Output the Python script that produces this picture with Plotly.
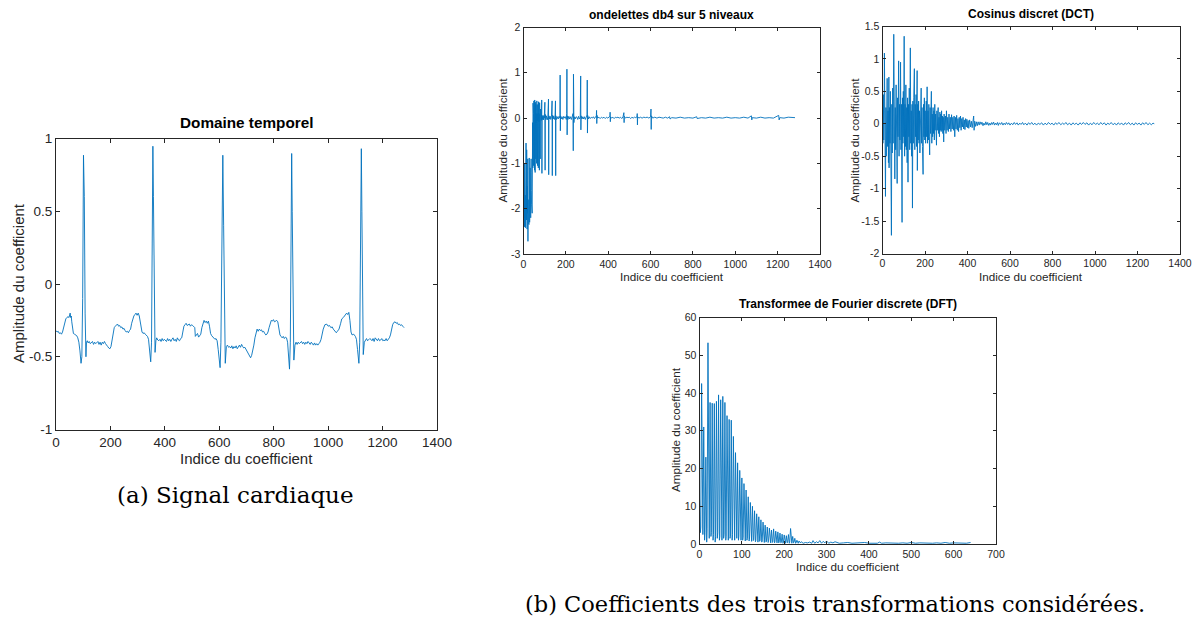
import plotly.graph_objects as go

W, H = 1197, 617
BLUE = "#0072BD"
AX = "#262626"

# ---------------- data: ECG signal (time domain) ----------------
ecg_idx = [0, 4, 8, 12, 16, 20, 24, 28, 32, 36,
           40, 44, 48, 50, 52, 54, 56, 58, 61, 64,
           68, 72, 76, 80, 84, 88, 92, 95, 98, 101,
           104, 107, 110, 112, 115, 118, 122, 126, 130, 134,
           138, 142, 146, 150, 154, 158, 162, 166, 170, 174,
           178, 182, 186, 190, 194, 198, 202, 206, 210, 214,
           218, 222, 226, 230, 234, 238, 242, 246, 250, 254,
           258, 262, 266, 270, 274, 278, 282, 286, 290, 294,
           298, 302, 306, 310, 313, 316, 320, 324, 328, 332,
           336, 340, 344, 348, 351, 354, 356, 358, 361, 364,
           367, 370, 374, 378, 382, 386, 390, 394, 398, 402,
           406, 410, 414, 418, 422, 426, 430, 434, 438, 442,
           446, 450, 454, 458, 462, 466, 470, 474, 478, 482,
           486, 490, 494, 498, 502, 506, 510, 512, 516, 520,
           524, 528, 532, 536, 540, 544, 548, 552, 556, 560,
           564, 568, 572, 576, 580, 584, 588, 592, 596, 600,
           603, 606, 610, 613, 616, 619, 622, 626, 630, 634,
           638, 642, 646, 650, 654, 658, 662, 666, 670, 674,
           678, 682, 686, 690, 694, 698, 702, 706, 710, 715,
           719, 723, 727, 731, 735, 739, 743, 747, 751, 755,
           759, 763, 767, 771, 775, 779, 783, 787, 791, 795,
           799, 803, 807, 811, 815, 819, 823, 827, 831, 835,
           839, 843, 847, 851, 854, 858, 861, 864, 866, 868,
           871, 874, 878, 882, 886, 890, 894, 898, 902, 906,
           910, 914, 918, 922, 926, 930, 934, 938, 942, 946,
           950, 954, 958, 962, 966, 970, 974, 977, 982, 988,
           995, 1000, 1005, 1010, 1015, 1019, 1024, 1030, 1034, 1040,
           1046, 1050, 1056, 1062, 1068, 1072, 1076, 1080, 1084, 1088,
           1094, 1100, 1104, 1108, 1113, 1116, 1119, 1122, 1124, 1126,
           1129, 1133, 1137, 1141, 1145, 1149, 1153, 1157, 1161, 1165,
           1169, 1173, 1177, 1181, 1185, 1189, 1193, 1197, 1201, 1205,
           1209, 1213, 1217, 1221, 1225, 1229, 1233, 1237, 1241, 1246,
           1250, 1254, 1258, 1262, 1266, 1270, 1274, 1279]
ecg_val = [-0.32, -0.33, -0.325, -0.34, -0.335, -0.345, -0.33, -0.30, -0.26, -0.24,
           -0.23, -0.225, -0.23, -0.21, -0.20, -0.23, -0.22, -0.26, -0.32, -0.34,
           -0.345, -0.35, -0.355, -0.37, -0.40, -0.46, -0.545, -0.50, -0.10, 0.885,
           0.60, -0.20, -0.50, -0.40, -0.39, -0.405, -0.395, -0.41, -0.40, -0.395,
           -0.415, -0.40, -0.41, -0.40, -0.395, -0.415, -0.40, -0.42, -0.40, -0.41,
           -0.395, -0.41, -0.425, -0.43, -0.44, -0.445, -0.43, -0.38, -0.33, -0.30,
           -0.29, -0.28, -0.275, -0.29, -0.285, -0.30, -0.295, -0.31, -0.305, -0.32,
           -0.33, -0.325, -0.335, -0.32, -0.31, -0.27, -0.24, -0.22, -0.21, -0.20,
           -0.215, -0.20, -0.22, -0.26, -0.30, -0.33, -0.34, -0.335, -0.345, -0.35,
           -0.36, -0.38, -0.45, -0.535, -0.40, 0.40, 0.947, 0.60, -0.10, -0.47,
           -0.39, -0.37, -0.385, -0.39, -0.38, -0.395, -0.375, -0.39, -0.38, -0.385,
           -0.395, -0.375, -0.39, -0.38, -0.395, -0.38, -0.37, -0.39, -0.38, -0.395,
           -0.37, -0.385, -0.39, -0.375, -0.37, -0.33, -0.29, -0.28, -0.27, -0.285,
           -0.28, -0.275, -0.29, -0.28, -0.285, -0.29, -0.30, -0.36, -0.35, -0.34,
           -0.365, -0.35, -0.345, -0.30, -0.265, -0.25, -0.265, -0.255, -0.27, -0.255,
           -0.29, -0.34, -0.355, -0.365, -0.37, -0.38, -0.375, -0.39, -0.45, -0.52,
           -0.575, -0.40, 0.20, 0.885, 0.40, -0.20, -0.545, -0.43, -0.42, -0.435,
           -0.43, -0.44, -0.425, -0.445, -0.43, -0.44, -0.425, -0.445, -0.43, -0.42,
           -0.435, -0.415, -0.43, -0.44, -0.435, -0.45, -0.46, -0.48, -0.495, -0.507,
           -0.49, -0.46, -0.42, -0.37, -0.33, -0.31, -0.325, -0.31, -0.32, -0.315,
           -0.33, -0.325, -0.34, -0.35, -0.345, -0.33, -0.30, -0.27, -0.25, -0.255,
           -0.245, -0.26, -0.255, -0.25, -0.26, -0.30, -0.35, -0.36, -0.37, -0.36,
           -0.375, -0.365, -0.37, -0.40, -0.47, -0.585, -0.40, 0.30, 0.897, 0.50,
           -0.20, -0.523, -0.42, -0.40, -0.415, -0.40, -0.41, -0.405, -0.395, -0.41,
           -0.40, -0.415, -0.40, -0.41, -0.395, -0.405, -0.415, -0.40, -0.41, -0.42,
           -0.405, -0.42, -0.41, -0.42, -0.41, -0.40, -0.38, -0.35, -0.31, -0.28,
           -0.276, -0.29, -0.285, -0.30, -0.295, -0.31, -0.32, -0.335, -0.325, -0.31,
           -0.27, -0.24, -0.23, -0.215, -0.20, -0.21, -0.195, -0.25, -0.33, -0.35,
           -0.345, -0.36, -0.38, -0.45, -0.545, -0.40, 0.20, 0.93, 0.50, -0.10,
           -0.485, -0.40, -0.39, -0.375, -0.39, -0.385, -0.375, -0.38, -0.39, -0.375,
           -0.395, -0.37, -0.385, -0.39, -0.375, -0.39, -0.385, -0.375, -0.39, -0.385,
           -0.39, -0.375, -0.39, -0.38, -0.37, -0.35, -0.31, -0.28, -0.265, -0.26,
           -0.27, -0.265, -0.28, -0.275, -0.285, -0.28, -0.29, -0.30]

# ---------------- data: db4 wavelet coefficients ----------------
db4_idx = list(range(0, 89)) + [
           90, 92, 94, 96, 98, 101, 102, 103, 106, 109,
           112, 115, 118, 119, 120, 123, 126, 129, 132, 135,
           136, 137, 140, 143, 146, 149, 151, 152, 153, 156,
           160, 164, 168, 172, 173, 174, 175, 178, 182, 186,
           190, 194, 198, 202, 204, 205, 206, 207, 210, 214,
           218, 222, 226, 230, 234, 235, 236, 237, 238, 240,
           244, 248, 252, 256, 260, 264, 268, 270, 271, 272,
           276, 280, 284, 288, 292, 296, 300, 301, 302, 303,
           306, 310, 315, 320, 325, 330, 335, 340, 344, 345,
           346, 347, 350, 356, 362, 368, 374, 380, 386, 392,
           398, 404, 408, 409, 410, 411, 416, 422, 428, 434,
           440, 446, 452, 458, 464, 470, 474, 475, 476, 482,
           488, 494, 500, 506, 512, 518, 524, 530, 536, 537,
           538, 539, 545, 552, 560, 568, 576, 584, 592, 600,
           602, 603, 604, 610, 620, 630, 640, 650, 660, 670,
           680, 690, 692, 700, 720, 740, 760, 780, 800, 818,
           820, 840, 860, 880, 900, 920, 940, 960, 980, 1000,
           1020, 1040, 1060, 1076, 1078, 1080, 1100, 1120, 1140, 1160,
           1180, 1205, 1207, 1210, 1230, 1250, 1282]
db4_val = [-0.85, -1.9, -1.2, -2.2, -1.0, -2.4, -1.5, -2.1, -1.7, -2.42,
           -1.3, -2.2, -0.55, -1.6, -2.25, -0.7, -1.9, -2.45, -1.5, -2.1,
           -0.9, -2.72, -1.8, -2.3, -1.0, -1.4, -2.35, -0.88, -1.7, -2.3,
           -2.0, -1.1, -2.15, -1.8, -2.2, -1.2, -0.9, -1.6, -1.9, -0.85,
           -1.8, -2.1, -0.3, -0.1, -1.10, 0.33, -0.3, 0.1, -1.05, 0.38,
           -0.5, 0.05, -1.15, 0.40, -0.2, -1.2, 0.35, 0.0, -0.9, 0.30,
           -0.1, 0.1, -1.0, 0.38, -0.05, 0.08, -1.05, 0.3, -0.05, 0.1,
           -1.1, 0.36, 0.02, -0.08, 0.1, -1.15, 0.34, 0.0, 0.05, -0.9,
           0.2, 0.0, 0.06, 0.02, -0.05, 0.03, 0.4, -1.22, 0.05,
           -0.03, 0.06, -0.04, 0.05, 0.0, 0.35, -1.15, 0.08, -0.03, 0.05,
           -0.04, 0.03, 0.42, -1.25, 0.05, -0.02, 0.04, -0.03, 0.04, 0.38,
           -1.27, 0.06, -0.02, 0.05, -0.03, 0.03, 0.38, -1.27, 0.05, -0.03,
           0.03, -0.02, 0.04, 0.0, 0.95, -0.28, 0.05, -0.02, 0.03, -0.03,
           0.04, 0.0, 0.03, -0.03, 0.1, 1.08, -0.37, 0.05, -0.03, 0.04,
           -0.02, 0.03, -0.03, 0.02, 0.1, -0.72, 0.97, 0.35, -0.1, 0.03,
           -0.02, 0.03, 0.02, -0.03, 0.04, -0.02, 0.02, 0.93, -0.26, 0.05,
           -0.02, 0.03, -0.02, 0.03, -0.03, 0.02, 0.07, 0.84, -0.33, 0.06,
           -0.02, 0.03, -0.01, 0.02, 0.0, 0.03, -0.01, 0.02, 0.05, 0.17,
           -0.12, 0.06, 0.0, 0.02, -0.01, 0.02, 0.0, 0.02, -0.01, 0.02,
           0.0, 0.02, 0.04, 0.13, -0.08, 0.03, 0.0, 0.02, -0.01, 0.02,
           0.01, 0.02, 0.0, 0.02, -0.01, 0.03, 0.12, -0.1, 0.04, 0.0,
           0.02, 0.01, 0.02, -0.01, 0.02, 0.0, 0.02, 0.01, 0.03, 0.1,
           -0.15, 0.03, 0.0, 0.02, 0.0, 0.02, 0.01, 0.02, 0.0, 0.03,
           0.2, -0.25, 0.05, 0.0, 0.02, 0.0, 0.02, 0.01, 0.0, 0.02,
           0.0, 0.03, -0.02, 0.01, 0.0, 0.02, 0.0, 0.01, 0.0, 0.03,
           -0.01, 0.01, 0.0, 0.02, 0.0, 0.01, 0.0, 0.02, 0.0, 0.01,
           0.0, 0.02, 0.0, 0.05, -0.04, 0.01, 0.0, 0.02, 0.0, 0.01,
           0.0, 0.06, -0.04, 0.01, 0.0, 0.02, 0.01]

# ---------------- data: DCT coefficients ----------------
dct_idx = [0, 2, 4, 6, 8, 9, 10, 12, 14, 16,
           18, 20, 22, 24, 26, 28, 30, 31, 33, 35,
           37, 39, 42, 44, 46, 48, 50, 53, 55, 57,
           58, 60, 62, 64, 66, 69, 71, 73, 76, 78,
           80, 82, 85, 87, 89, 92, 94, 96, 98, 100,
           102, 104, 106, 108, 110, 112, 114, 116, 118, 120,
           122, 124, 126, 128, 131, 133, 135, 137, 139, 141,
           143, 145, 147, 150, 152, 154, 156, 158, 160, 163,
           164, 166, 168, 170, 172, 174, 176, 178, 180, 182,
           184, 186, 188, 191, 193, 195, 197, 199, 201, 203,
           206, 208, 210, 212, 214, 216, 218, 220, 222, 224,
           226, 228, 230, 232, 234, 236, 238, 240, 242, 244,
           246, 248, 250, 252, 254, 256, 258, 260, 262, 264,
           266, 268, 270, 272, 274, 276, 278, 280, 282, 284,
           286, 288, 290, 293, 296, 299, 301, 304, 307, 310,
           313, 316, 319, 322, 325, 328, 331, 334, 337, 340,
           343, 346, 349, 352, 355, 358, 361, 364, 367, 370,
           373, 376, 379, 382, 385, 388, 391, 394, 397, 400,
           403, 406, 410, 414, 418, 422, 426, 429, 431, 434,
           438, 442, 446, 450, 455, 459, 464, 468, 473, 477,
           482, 486, 491, 495, 500, 505, 509, 514, 518, 523,
           527, 532, 536, 541, 545, 550, 556, 561, 567, 572,
           578, 583, 589, 594, 600, 607, 613, 620, 626, 633,
           639, 646, 652, 659, 665, 672, 680, 687, 695, 702,
           710, 717, 725, 733, 741, 749, 757, 765, 773, 781,
           790, 798, 806, 814, 822, 830, 839, 847, 855, 863,
           871, 880, 888, 896, 904, 912, 921, 929, 937, 945,
           953, 962, 970, 978, 986, 994, 1003, 1011, 1019, 1027,
           1035, 1044, 1052, 1060, 1068, 1076, 1085, 1093, 1101, 1109,
           1117, 1126, 1134, 1142, 1150, 1158, 1167, 1175, 1183, 1191,
           1199, 1208, 1216, 1224, 1232, 1240, 1249, 1257, 1265, 1273,
           1279]
dct_val = [0.35, -0.30, 0.45, -0.25, 0.20, 1.09, -0.40, 0.30, -1.12, 0.25,
           -0.50, 0.15, 0.70, -0.35, 0.20, -0.60, 0.72, -0.68, 0.25, -0.30,
           0.50, -0.20, -1.72, 0.30, -0.45, 0.55, -0.30, 1.38, -0.20, 0.30,
           -0.85, 0.25, -0.40, 0.60, -0.30, -0.92, 0.40, -0.20, 0.97, -0.50,
           0.30, -0.25, 0.95, -0.40, 0.30, -1.52, 0.40, -0.30, 0.50, -0.20,
           1.35, -0.50, 0.30, -0.35, 0.60, -0.40, 0.25, -0.60, 0.40, -0.90,
           0.30, -0.20, 0.55, -0.40, 1.17, -0.30, 0.20, -0.50, 0.30, -1.30,
           0.35, -0.30, 0.40, 0.85, -0.40, 0.30, -0.20, 0.45, -0.35, 0.82,
           -0.72, 0.30, -0.25, 0.35, -0.30, 0.20, -0.45, 0.30, -0.20, 0.55,
           -0.30, 0.25, -0.35, -0.78, 0.30, -0.20, 0.40, -0.25, 0.20, -0.30,
           0.35, -0.20, 0.57, -0.30, 0.20, -0.25, 0.30, -0.20, -0.48, 0.25,
           -0.15, 0.20, 0.50, -0.30, 0.15, -0.20, 0.25, -0.15, 0.20, -0.25,
           0.30, -0.10, 0.15, -0.20, -0.33, 0.20, -0.10, 0.12, 0.25, -0.15,
           0.10, -0.20, 0.18, -0.10, 0.15, -0.12, 0.20, -0.10, 0.12, -0.15,
           0.10, -0.28, 0.15, -0.10, 0.12, -0.15, 0.20, -0.10, 0.10, -0.12,
           0.15, -0.08, 0.10, -0.12, 0.14, -0.08, 0.10, -0.10, 0.12, -0.20,
           0.10, -0.08, 0.13, -0.10, 0.08, -0.12, 0.10, -0.06, 0.12, -0.10,
           0.08, -0.05, 0.10, -0.08, 0.06, -0.09, 0.08, -0.05, 0.07, -0.06,
           0.05, -0.07, 0.06, -0.05, 0.04, -0.06, 0.05, 0.12, -0.10, 0.04,
           -0.04, 0.03, -0.03, 0.03, -0.02, 0.03, -0.01, 0.025, -0.03, 0.01,
           -0.02, 0.03, -0.015, 0.02, -0.025, 0.01, -0.02, 0.02, -0.01, 0.025,
           -0.02, 0.01, -0.015, 0.02, -0.025, 0.015, -0.01, 0.02, -0.02, 0.01,
           -0.015, 0.02, -0.01, 0.015, -0.02, 0.01, -0.015, 0.02, -0.01, 0.015,
           -0.02, 0.01, -0.01, 0.02, -0.015, 0.01, -0.02, 0.015, -0.01, 0.02,
           -0.015, 0.01, -0.02, 0.01, -0.01, 0.015, -0.02, 0.01, -0.015, 0.02,
           -0.01, 0.01, -0.02, 0.015, -0.01, 0.02, -0.015, 0.01, -0.01, 0.02,
           -0.015, 0.01, -0.02, 0.015, -0.01, 0.01, -0.02, 0.015, -0.01, 0.02,
           -0.01, 0.015, -0.02, 0.01, -0.015, 0.02, -0.01, 0.01, -0.015, 0.02,
           -0.01, 0.015, -0.02, 0.01, -0.01, 0.02, -0.015, 0.01, -0.02, 0.015,
           -0.01, 0.01, -0.02, 0.015, -0.01, 0.02, -0.015, 0.01, -0.02, 0.015,
           -0.01, 0.01, -0.02, 0.015, -0.01, 0.02, -0.015, 0.01, -0.015, 0.01,
           0.0]

# ---------------- data: DFT magnitude ----------------
dft_idx = [0, 2, 3, 5, 7, 8, 10, 12, 13, 15,
           17, 18, 20, 22, 23, 25, 27, 28, 30, 32,
           33, 35, 37, 38, 40, 42, 43, 45, 47, 48,
           50, 52, 53, 55, 57, 58, 60, 62, 63, 65,
           67, 68, 70, 72, 73, 75, 77, 78, 80, 82,
           83, 85, 87, 88, 90, 92, 93, 95, 97, 98,
           100, 102, 103, 105, 107, 108, 110, 112, 113, 115,
           117, 118, 120, 122, 123, 125, 127, 128, 130, 132,
           133, 135, 137, 138, 140, 142, 143, 145, 147, 148,
           150, 152, 153, 155, 157, 158, 160, 162, 163, 165,
           167, 168, 170, 172, 173, 175, 177, 178, 180, 182,
           183, 185, 187, 188, 190, 192, 193, 195, 197, 198,
           200, 202, 203, 205, 207, 208, 210, 212, 213, 215,
           217, 218, 220, 222, 223, 225, 227, 228, 230, 233,
           235, 238, 240, 245, 250, 255, 260, 265, 268, 272,
           276, 280, 284, 288, 292, 296, 300, 305, 310, 315,
           320, 330, 340, 350, 360, 370, 380, 390, 400, 410,
           420, 425, 430, 440, 450, 460, 470, 480, 490, 500,
           510, 520, 530, 540, 550, 560, 570, 580, 590, 600,
           610, 620, 630, 640]
dft_val = [12.0, 3.0, 4.5, 42.5, 3.5, 2.5, 31.0, 1.0, 3.0, 23.0,
           0.5, 4.0, 53.3, 3.0, 1.5, 37.5, 2.0, 3.0, 37.3, 1.0,
           2.5, 37.2, 0.5, 2.0, 37.8, 1.5, 3.0, 39.5, 1.0, 2.0,
           38.2, 2.5, 1.0, 39.1, 1.5, 2.5, 37.5, 1.0, 2.0, 34.0,
           2.5, 1.0, 33.0, 1.5, 2.0, 32.8, 1.0, 2.5, 28.5, 1.5,
           1.0, 24.2, 2.0, 1.5, 21.5, 1.0, 2.0, 19.5, 1.5, 1.0,
           17.5, 1.0, 1.8, 16.0, 1.2, 0.8, 14.3, 1.0, 1.5, 12.5,
           0.8, 1.2, 11.0, 1.0, 0.7, 10.0, 0.9, 1.2, 8.8, 0.6,
           1.0, 8.0, 0.8, 0.5, 7.2, 0.7, 1.0, 6.4, 0.5, 0.8,
           5.8, 0.6, 0.4, 5.0, 0.5, 0.7, 4.5, 0.4, 0.6, 4.2,
           0.5, 0.3, 3.7, 0.4, 0.6, 4.0, 0.3, 0.5, 3.4, 0.4,
           0.3, 3.2, 0.3, 0.5, 2.9, 0.3, 0.4, 2.6, 0.2, 0.4,
           2.4, 0.3, 0.2, 2.2, 0.3, 0.4, 2.5, 0.2, 0.5, 4.1,
           0.3, 0.2, 2.0, 0.3, 0.4, 1.5, 0.2, 0.3, 1.0, 0.2,
           0.8, 0.3, 0.6, 0.2, 0.4, 0.3, 0.5, 0.2, 0.9, 0.2,
           0.6, 0.3, 0.9, 0.2, 0.7, 0.3, 0.8, 0.2, 0.5, 0.3,
           0.6, 0.2, 0.3, 0.4, 0.2, 0.3, 0.2, 0.4, 0.2, 0.3,
           0.2, 0.5, 0.2, 0.3, 0.2, 0.3, 0.2, 0.3, 0.2, 0.4,
           0.2, 0.3, 0.2, 0.3, 0.2, 0.3, 0.2, 0.4, 0.2, 0.3,
           0.2, 0.3, 0.2, 0.4]

# ---------------- tick labels ----------------
x_ticks_long = [0, 200, 400, 600, 800, 1000, 1200, 1400]
x_ticks_dft = [0, 100, 200, 300, 400, 500, 600, 700]
y_ticks_ecg = [-1, -0.5, 0, 0.5, 1]
y_ticks_db4 = [-3, -2, -1, 0, 1, 2]
y_ticks_dct = [-2, -1.5, -1, -0.5, 0, 0.5, 1, 1.5]
y_ticks_dft = [0, 10, 20, 30, 40, 50, 60]

for a, b in [(ecg_idx, ecg_val), (db4_idx, db4_val), (dct_idx, dct_val), (dft_idx, dft_val)]:
    assert len(a) == len(b), (len(a), len(b))


def px(x):
    return x / W


def py(y):
    return 1 - y / H


def lab(v):
    return "%g" % v


fig = go.Figure()
panels = [
    (ecg_idx, ecg_val, "x", "y"),
    (db4_idx, db4_val, "x2", "y2"),
    (dct_idx, dct_val, "x3", "y3"),
    (dft_idx, dft_val, "x4", "y4"),
]
for xs, ys, xa, ya in panels:
    fig.add_trace(go.Scatter(x=xs, y=ys, mode="lines", xaxis=xa, yaxis=ya,
                             line=dict(color=BLUE, width=0.9), showlegend=False, hoverinfo="skip"))


def axis_style(domain, rng, ticks, fs, anchor, ticklen):
    return dict(domain=domain, range=rng, tickvals=ticks, ticktext=[lab(t) for t in ticks], anchor=anchor,
                showgrid=False, zeroline=False, showline=True, linecolor=AX, linewidth=1,
                mirror="allticks", ticks="inside", ticklen=ticklen, tickcolor=AX, tickwidth=1,
                automargin=False,
                tickfont=dict(family="Liberation Sans", size=fs, color=AX))


boxes = {
    "a": (56, 437, 138.5, 429.5),
    "b": (523.5, 820, 27.5, 254),
    "c": (882.5, 1180, 26.5, 253.5),
    "d": (699.5, 996, 317.5, 544),
}


def dom(b):
    l, r, t, bt = b
    return [px(l), px(r)], [py(bt), py(t)]


xa, ya = dom(boxes["a"])
xb, yb = dom(boxes["b"])
xc, yc = dom(boxes["c"])
xd, yd = dom(boxes["d"])

fig.update_layout(
    width=W, height=H, margin=dict(l=0, r=0, t=0, b=0, pad=0, autoexpand=False),
    paper_bgcolor="white", plot_bgcolor="white",
    xaxis=axis_style(xa, [0, 1400], x_ticks_long, 13.5, "y", 4),
    yaxis=axis_style(ya, [-1, 1], y_ticks_ecg, 13.5, "x", 4),
    xaxis2=axis_style(xb, [0, 1400], x_ticks_long, 10.5, "y2", 3),
    yaxis2=axis_style(yb, [-3, 2], y_ticks_db4, 10.5, "x2", 3),
    xaxis3=axis_style(xc, [0, 1400], x_ticks_long, 10.5, "y3", 3),
    yaxis3=axis_style(yc, [-2, 1.5], y_ticks_dct, 10.5, "x3", 3),
    xaxis4=axis_style(xd, [0, 700], x_ticks_dft, 10.5, "y4", 3),
    yaxis4=axis_style(yd, [0, 60], y_ticks_dft, 10.5, "x4", 3),
)

ann = []


def text(t, x, y, size, bold=False, angle=0, family="Liberation Sans", color=AX):
    ann.append(dict(text=("<b>%s</b>" % t) if bold else t, x=px(x), y=py(y), xref="paper", yref="paper",
                    showarrow=False, xanchor="center", yanchor="middle", textangle=angle,
                    font=dict(family=family, size=size, color=color)))


text("Domaine temporel", 246.5, 122, 15.3, bold=True, color="black")
text("ondelettes db4 sur 5 niveaux", 671.7, 15, 12, bold=True, color="black")
text("Cosinus discret (DCT)", 1031, 14, 12, bold=True, color="black")
text("Transformee de Fourier discrete (DFT)", 847.7, 304, 12, bold=True, color="black")
text("Indice du coefficient", 246.5, 458, 15)
text("Amplitude du coefficient", 18, 283, 15, angle=-90)
text("Indice du coefficient", 671.7, 276, 11.7)
text("Amplitude du coefficient", 501.5, 140, 11.7, angle=-90)
text("Indice du coefficient", 1031, 276, 11.7)
text("Amplitude du coefficient", 853.5, 140, 11.7, angle=-90)
text("Indice du coefficient", 847.7, 566.5, 11.7)
text("Amplitude du coefficient", 675, 430, 11.7, angle=-90)
text("(a) Signal cardiaque", 235, 495, 23, family="DejaVu Serif", color="black")
text("(b) Coefficients des trois transformations considérées.", 835, 604, 22.5, family="DejaVu Serif", color="black")

fig.update_layout(annotations=ann)
fig.write_html(
    "out.html",
    config={"displayModeBar": False, "staticPlot": True},
    post_script="document.documentElement.style.margin='0';document.body.style.margin='0';"
                "document.body.style.padding='0';document.body.style.overflow='hidden';"
                "document.documentElement.style.overflow='hidden';",
)
